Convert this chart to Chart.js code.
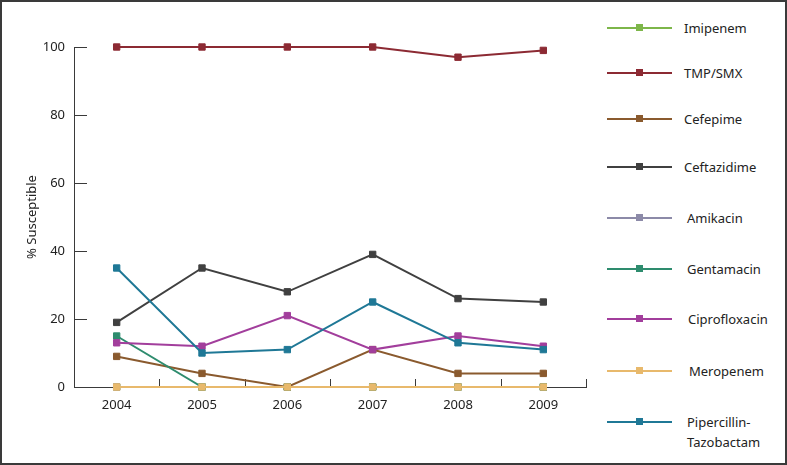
<!DOCTYPE html>
<html>
<head>
<meta charset="utf-8">
<script src="https://cdn.jsdelivr.net/npm/chart.js@4"></script>
<style>
  html, body { margin: 0; padding: 0; background: #fff; }
  #frame {
    position: relative; width: 787px; height: 465px; box-sizing: border-box;
    border: 2px solid #3a3a3a; background: #fff; overflow: hidden;
    font-family: "Noto Sans", sans-serif;
  }
  #chart-wrap { position: absolute; left: -2px; top: -2px; width: 600px; height: 465px; }
  .legend-item { position: absolute; left: 605px; height: 20px; }
  .legend-line { position: absolute; left: 0; top: 9px; width: 65px; height: 2px; }
  .legend-mark { position: absolute; left: 29px; top: 6px; width: 7px; height: 7px; }
  .legend-text { position: absolute; top: 0; font-size: 13px; line-height: 20px; color: #222; white-space: nowrap; }
</style>
</head>
<body>
<div id="frame">
  <div id="chart-wrap"><canvas id="chart"></canvas></div>
</div>
<script>
const years = ['2004', '2005', '2006', '2007', '2008', '2009'];
const seriesNames = ['Imipenem', 'TMP/SMX', 'Cefepime', 'Ceftazidime', 'Amikacin', 'Gentamacin', 'Ciprofloxacin', 'Meropenem', 'Pipercillin-\nTazobactam'];
const seriesColors = ['#7db64a', '#8c2a33', '#8a5a2e', '#404040', '#8c8aa8', '#2e8c6e', '#a23e9c', '#e8b96c', '#1f7896'];

const imipenem = [0, 0, 0, 0, 0, 0];
const tmpSmx = [100, 100, 100, 100, 97, 99];
const cefepime = [9, 4, 0, 11, 4, 4];
const ceftazidime = [19, 35, 28, 39, 26, 25];
const amikacin = [0, 0, 0, 0, 0, 0];
const gentamacin = [15, 0, 0, 0, 0, 0];
const ciprofloxacin = [13, 12, 21, 11, 15, 12];
const meropenem = [0, 0, 0, 0, 0, 0];
const pipTazo = [35, 10, 11, 25, 13, 11];

const seriesValues = [imipenem, tmpSmx, cefepime, ceftazidime, amikacin, gentamacin, ciprofloxacin, meropenem, pipTazo];
const yTicks = [0, 20, 40, 60, 80, 100];

// legend row centres and text offsets, top to bottom
const legendRows = [28, 73, 119, 167, 218, 269, 319, 371, 422];
const legendTextX = [77, 77, 77, 77, 80, 80, 81, 82, 80];

const axisColor = '#3a3a3a';

// inward tick marks like the original figure
const innerTicks = {
  id: 'innerTicks',
  beforeDatasetsDraw(chart) {
    const { ctx, chartArea, scales } = chart;
    ctx.save();
    ctx.strokeStyle = axisColor;
    ctx.lineWidth = 1;
    ctx.beginPath();
    scales.y.ticks.forEach((t, i) => {
      const y = Math.round(scales.y.getPixelForTick(i)) + 0.5;
      ctx.moveTo(chartArea.left, y);
      ctx.lineTo(chartArea.left + 13, y);
    });
    const step = scales.x.getPixelForValue(1) - scales.x.getPixelForValue(0);
    years.forEach((y, i) => {
      const x = Math.round(scales.x.getPixelForValue(i) + step / 2) + 0.5;
      ctx.moveTo(x, chartArea.bottom);
      ctx.lineTo(x, chartArea.bottom - 8);
    });
    ctx.stroke();
    ctx.restore();
  }
};

// later series in the legend sit on top, as in the original
const datasets = seriesNames.map((name, i) => ({
  label: name.replace('\n', ''),
  data: seriesValues[i],
  borderColor: seriesColors[i],
  backgroundColor: seriesColors[i],
  pointBackgroundColor: seriesColors[i],
  pointBorderColor: seriesColors[i],
  borderWidth: 2,
  pointStyle: 'rect',
  pointRadius: 4.5,
  pointBorderWidth: 1,
  tension: 0,
  clip: false,
  order: seriesNames.length - i
}));

new Chart(document.getElementById('chart'), {
  type: 'line',
  data: { labels: years, datasets },
  options: {
    responsive: true,
    maintainAspectRatio: false,
    animation: false,
    layout: { padding: { left: 24, top: 47, right: 14, bottom: 0 } },
    plugins: { legend: { display: false }, tooltip: { enabled: false } },
    scales: {
      x: {
        offset: true,
        grid: { display: false, drawTicks: false },
        border: { display: true, color: axisColor, width: 1 },
        ticks: { color: '#222', font: { family: 'Noto Sans', size: 13 }, padding: 10 },
        afterFit(scale) { scale.height = 78; }
      },
      y: {
        min: 0,
        max: 100,
        afterBuildTicks(scale) { scale.ticks = yTicks.map((v) => ({ value: v })); },
        grid: { display: false, drawTicks: false },
        border: { display: true, color: axisColor, width: 1 },
        ticks: { color: '#222', font: { family: 'Noto Sans', size: 13 }, padding: 9 },
        title: {
          display: true,
          text: '% Susceptible',
          color: '#222',
          font: { family: 'Noto Sans', size: 13 },
          padding: { top: 0, bottom: 0 }
        },
        afterFit(scale) { scale.width = 50; }
      }
    }
  },
  plugins: [innerTicks]
});

const frame = document.getElementById('frame');
seriesNames.forEach((name, i) => {
  const item = document.createElement('div');
  item.className = 'legend-item';
  item.style.top = (legendRows[i] - 10 - 2) + 'px';
  const lines = name.split('\n');
  item.innerHTML = `
    <div class="legend-line" style="background:${seriesColors[i]}"></div>
    <div class="legend-mark" style="background:${seriesColors[i]}"></div>
    <div class="legend-text" style="left:${legendTextX[i]}px">${lines.join('<br>')}</div>
  `;
  frame.appendChild(item);
});
</script>
</body>
</html>
